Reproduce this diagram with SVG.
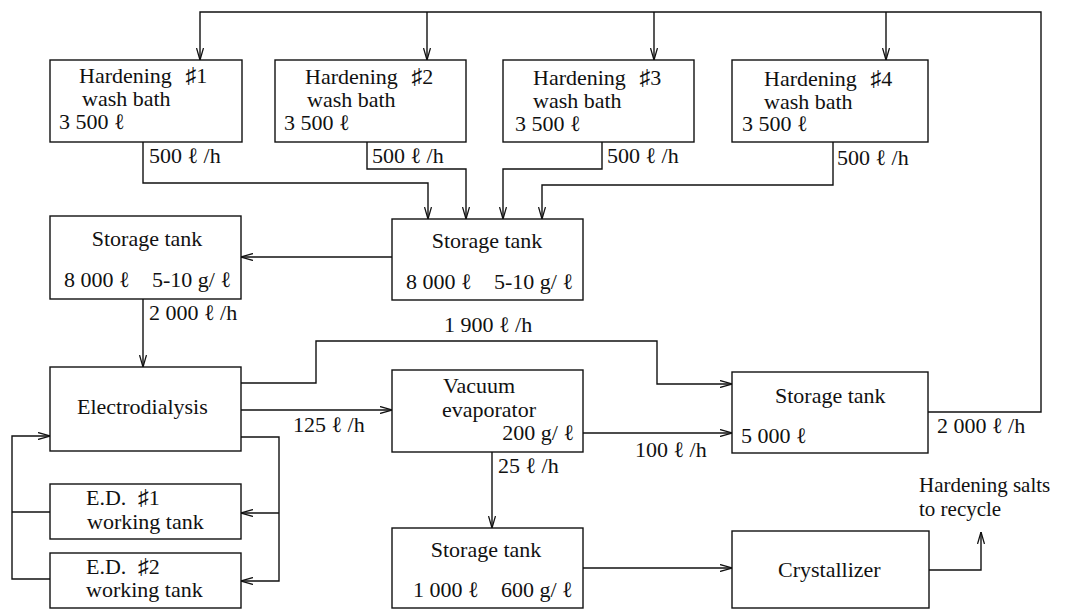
<svg xmlns="http://www.w3.org/2000/svg" width="1066" height="610" viewBox="0 0 1066 610">
<style>
text{font-family:"Liberation Serif","DejaVu Serif",serif;font-size:22px;fill:#111}
.box{fill:#fff;stroke:#111;stroke-width:1.4}
.c{fill:none;stroke:#111;stroke-width:1.4}
.m{text-anchor:middle}
.e{text-anchor:end}
.sm{font-size:21px}
</style>
<defs>
<marker id="a" viewBox="0 0 12 8" refX="12" refY="4" markerWidth="12" markerHeight="8" markerUnits="userSpaceOnUse" orient="auto">
<path d="M0,0.5 L12,4 L0,7.5" fill="none" stroke="#111" stroke-width="1.3"/>
</marker>
</defs>
<rect width="1066" height="610" fill="#fff"/>
<g id="connectors">
<path class="c" d="M928,412 H1041 V12 H200 V60" marker-end="url(#a)"/>
<path class="c" d="M427,12 V60" marker-end="url(#a)"/>
<path class="c" d="M654,12 V60" marker-end="url(#a)"/>
<path class="c" d="M886,12 V60" marker-end="url(#a)"/>
<path class="c" d="M143,142 V183 H428 V219" marker-end="url(#a)"/>
<path class="c" d="M367,142 V169 H466 V219" marker-end="url(#a)"/>
<path class="c" d="M602,142 V169 H503 V219" marker-end="url(#a)"/>
<path class="c" d="M833,142 V185 H542 V219" marker-end="url(#a)"/>
<path class="c" d="M392,257 H241" marker-end="url(#a)"/>
<path class="c" d="M143,299 V367" marker-end="url(#a)"/>
<path class="c" d="M241,383 H316 V341 H657 V384 H732" marker-end="url(#a)"/>
<path class="c" d="M241,410 H392" marker-end="url(#a)"/>
<path class="c" d="M241,437 H279 V581 H241" marker-end="url(#a)"/>
<path class="c" d="M279,513 H241" marker-end="url(#a)"/>
<path class="c" d="M50,512 H12"/>
<path class="c" d="M50,579 H12 V436 H50" marker-end="url(#a)"/>
<path class="c" d="M583,433 H732" marker-end="url(#a)"/>
<path class="c" d="M492,452 V528" marker-end="url(#a)"/>
<path class="c" d="M583,568 H732" marker-end="url(#a)"/>
<path class="c" d="M929,570 H981 V532" marker-end="url(#a)"/>
<text x="149" y="163">500 ℓ /h</text>
<text x="372" y="163">500 ℓ /h</text>
<text x="607" y="163">500 ℓ /h</text>
<text x="837" y="165">500 ℓ /h</text>
<text x="149" y="320">2 000 ℓ /h</text>
<text x="444" y="332">1 900 ℓ /h</text>
<text x="293" y="432">125 ℓ /h</text>
<text x="635" y="457">100 ℓ /h</text>
<text x="498" y="473">25 ℓ /h</text>
<text x="937" y="433">2 000 ℓ /h</text>
<text class="sm" x="919" y="492">Hardening salts</text>
<text class="sm" x="919" y="516">to recycle</text>
</g>
<g id="h1">
<rect class="box" x="50" y="60" width="192" height="82"/>
<text x="79" y="83">Hardening <tspan dx="8">♯1</tspan></text>
<text x="82" y="106">wash bath</text>
<text x="59" y="129">3 500 ℓ</text>
</g>
<g id="h2">
<rect class="box" x="275" y="60" width="191" height="82"/>
<text x="305" y="84">Hardening <tspan dx="8">♯2</tspan></text>
<text x="307" y="107">wash bath</text>
<text x="284" y="130">3 500 ℓ</text>
</g>
<g id="h3">
<rect class="box" x="503" y="60" width="191" height="82"/>
<text x="533" y="85">Hardening <tspan dx="8">♯3</tspan></text>
<text x="533" y="108">wash bath</text>
<text x="515" y="131">3 500 ℓ</text>
</g>
<g id="h4">
<rect class="box" x="732" y="60" width="196" height="82"/>
<text x="764" y="86">Hardening <tspan dx="8">♯4</tspan></text>
<text x="764" y="109">wash bath</text>
<text x="742" y="131">3 500 ℓ</text>
</g>
<g id="storage-left">
<rect class="box" x="50" y="216" width="191" height="83"/>
<text class="m" x="147" y="246">Storage tank</text>
<text x="64" y="287">8 000 ℓ</text>
<text x="152" y="287">5-10 g/ ℓ</text>
</g>
<g id="storage-center">
<rect class="box" x="392" y="219" width="191" height="81"/>
<text class="m" x="487" y="248">Storage tank</text>
<text x="406" y="289">8 000 ℓ</text>
<text x="494" y="289">5-10 g/ ℓ</text>
</g>
<g id="electrodialysis">
<rect class="box" x="50" y="367" width="191" height="84"/>
<text x="77" y="414">Electrodialysis</text>
</g>
<g id="evaporator">
<rect class="box" x="392" y="370" width="191" height="82"/>
<text x="443" y="393">Vacuum</text>
<text x="442" y="417">evaporator</text>
<text class="e" x="574" y="440">200 g/ ℓ</text>
</g>
<g id="storage-5000">
<rect class="box" x="732" y="372" width="196" height="81"/>
<text x="775" y="403">Storage tank</text>
<text x="741" y="443">5 000 ℓ</text>
</g>
<g id="ed1">
<rect class="box" x="50" y="484" width="191" height="55"/>
<text x="86" y="505">E.D. <tspan dx="6">♯1</tspan></text>
<text x="87" y="529">working tank</text>
</g>
<g id="ed2">
<rect class="box" x="50" y="553" width="191" height="55"/>
<text x="86" y="574">E.D. <tspan dx="6">♯2</tspan></text>
<text x="86" y="597">working tank</text>
</g>
<g id="storage-1000">
<rect class="box" x="392" y="528" width="191" height="80"/>
<text class="m" x="486" y="557">Storage tank</text>
<text x="413" y="597">1 000 ℓ</text>
<text x="501" y="597">600 g/ ℓ</text>
</g>
<g id="crystallizer">
<rect class="box" x="732" y="531" width="197" height="77"/>
<text x="778" y="577">Crystallizer</text>
</g>
</svg>
